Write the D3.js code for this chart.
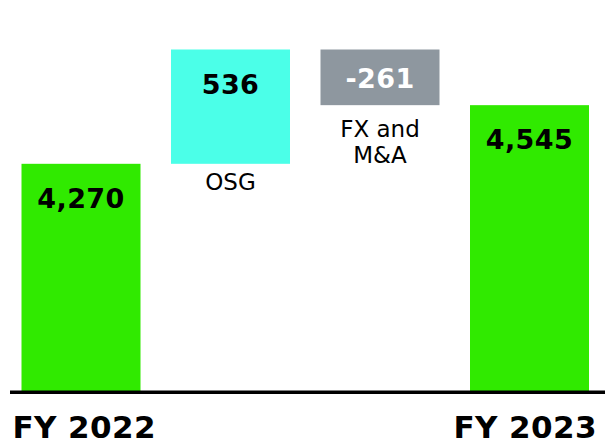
<!DOCTYPE html>
<html>
<head>
<meta charset="utf-8">
<script src="https://cdn.jsdelivr.net/npm/d3@7"></script>
<style>
  html, body { margin: 0; padding: 0; background: #fff; }
  svg { display: block; }
</style>
</head>
<body>
<script>
// data
var categories = ['FY 2022', 'OSG', 'FX and M&A', 'FY 2023'];
var kinds      = ['total', 'delta', 'delta', 'total'];
var values     = [4270, 536, -261, 4545];
var valueLabels = ['4,270', '536', '-261', '4,545'];
var noteLines  = [[], ['OSG'], ['FX and', 'M&A'], []];
var axisFloor  = 3200; // value axis does not start at zero

var width = 605, height = 442;
var colors = { total: '#30ea00', up: '#4bffe8', down: '#8e979f' };
var font = '"DejaVu Sans", Verdana, sans-serif';
var noteGap = [0, 26, 32, 0]; // gap below floating bar to first note baseline

// running start/end of each step
var steps = [];
var run = 0;
values.forEach(function(v, i) {
    if (kinds[i] === 'total') {
        steps.push({ i: i, from: axisFloor, to: v, kind: 'total' });
        run = v;
    } else {
        steps.push({ i: i, from: run, to: run + v, kind: v >= 0 ? 'up' : 'down' });
        run += v;
    }
});

var svg = d3.select('body').append('svg')
    .attr('width', width)
    .attr('height', height);

var x = d3.scaleBand()
    .domain(categories)
    .range([21.5, 589])
    .paddingInner(0.204)
    .paddingOuter(0);

var topVal = d3.max(steps, function(d) { return Math.max(d.from, d.to); });
var y = d3.scaleLinear()
    .domain([axisFloor, topVal])
    .range([392, 49.5]);

var bars = svg.append('g').selectAll('g')
    .data(steps)
    .join('g');

bars.append('rect')
    .attr('x', function(d) { return x(categories[d.i]); })
    .attr('y', function(d) { return y(Math.max(d.from, d.to)); })
    .attr('width', x.bandwidth())
    .attr('height', function(d) { return Math.abs(y(d.from) - y(d.to)); })
    .attr('fill', function(d) { return colors[d.kind]; });

// value inside bar
bars.append('text')
    .attr('x', function(d) { return x(categories[d.i]) + x.bandwidth() / 2; })
    .attr('y', function(d) {
        var t = y(Math.max(d.from, d.to));
        return d.kind === 'down' ? t + 38.5 : t + 44;
    })
    .attr('text-anchor', 'middle')
    .style('font-family', font)
    .style('font-weight', 'bold')
    .style('font-size', '27px')
    .style('letter-spacing', '0.4px')
    .attr('fill', function(d) { return d.kind === 'down' ? '#ffffff' : '#000000'; })
    .text(function(d) { return valueLabels[d.i]; });

// notes under the floating bars
bars.each(function(d) {
    var lines = noteLines[d.i];
    if (!lines.length) return;
    var base = y(Math.min(d.from, d.to));
    d3.select(this).append('text')
        .attr('text-anchor', 'middle')
        .style('font-family', font)
        .style('font-size', '23px')
        .attr('fill', '#000')
        .selectAll('tspan')
        .data(lines)
        .join('tspan')
        .attr('x', x(categories[d.i]) + x.bandwidth() / 2)
        .attr('y', function(l, j) { return base + noteGap[d.i] + j * 26; })
        .text(function(l) { return l; });
});

// baseline
svg.append('line')
    .attr('x1', 10).attr('x2', width)
    .attr('y1', 392.3).attr('y2', 392.3)
    .attr('stroke', '#000')
    .attr('stroke-width', 3.5);

// category labels for the totals
svg.append('text')
    .attr('x', 12.5).attr('y', 437.5)
    .style('font-family', font)
    .style('font-weight', 'bold')
    .style('font-size', '31px')
    .style('letter-spacing', '0.4px')
    .text(categories[0]);

svg.append('text')
    .attr('x', 597).attr('y', 437.5)
    .attr('text-anchor', 'end')
    .style('font-family', font)
    .style('font-weight', 'bold')
    .style('font-size', '31px')
    .style('letter-spacing', '0.4px')
    .text(categories[3]);
</script>
</body>
</html>
